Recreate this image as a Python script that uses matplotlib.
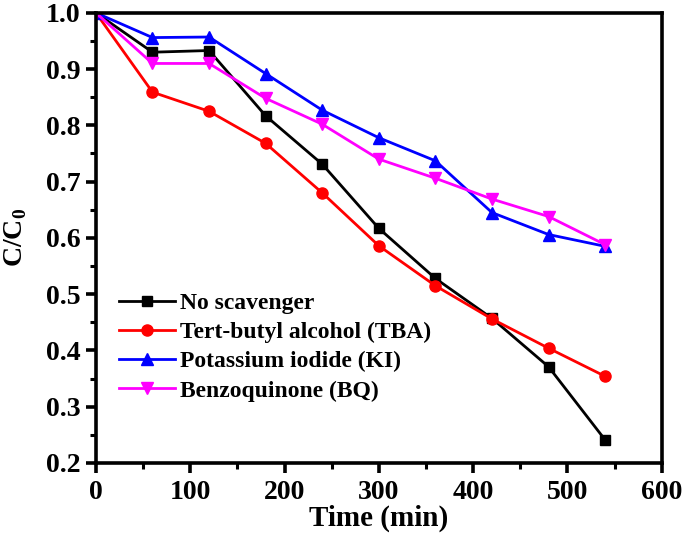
import numpy as np
import matplotlib.pyplot as plt
from matplotlib.ticker import MultipleLocator

# time points (min) and normalised concentration C/C0
time_min = [0, 60, 120, 180, 240, 300, 360, 420, 480, 540]
no_scavenger = [1.0, 0.930, 0.933, 0.817, 0.731, 0.617, 0.528, 0.457, 0.371, 0.241]
tba = [1.0, 0.859, 0.825, 0.768, 0.680, 0.586, 0.515, 0.456, 0.404, 0.354]
ki = [1.0, 0.956, 0.957, 0.892, 0.827, 0.778, 0.737, 0.645, 0.606, 0.585]
bq = [1.0, 0.910, 0.910, 0.848, 0.802, 0.740, 0.706, 0.669, 0.638, 0.588]

labels = ['No scavenger', 'Tert-butyl alcohol (TBA)', 'Potassium iodide (KI)', 'Benzoquinone (BQ)']

plt.rcParams['font.family'] = 'Liberation Serif'
plt.rcParams['font.weight'] = 'bold'
plt.rcParams['mathtext.fontset'] = 'custom'
plt.rcParams['mathtext.rm'] = 'Liberation Serif:bold'
plt.rcParams['mathtext.bf'] = 'Liberation Serif:bold'

fig = plt.figure(figsize=(6.85, 5.34), dpi=100)
ax = fig.add_axes([0.140, 0.133, 0.826, 0.843])

lw = 2.0
ax.plot(time_min, no_scavenger, color='black', marker='s', ms=7, lw=lw, label=labels[0])
ax.plot(time_min, tba, color='red', marker='o', ms=8, lw=lw, label=labels[1])
ax.plot(time_min, ki, color='blue', marker='^', ms=8.5, lw=lw, label=labels[2])
ax.plot(time_min, bq, color='magenta', marker='v', ms=8.5, lw=lw, label=labels[3])

ax.set_xlim(0, 600)
ax.set_ylim(0.2, 1.0)
ax.xaxis.set_major_locator(MultipleLocator(100))
ax.xaxis.set_minor_locator(MultipleLocator(50))
ax.yaxis.set_major_locator(MultipleLocator(0.1))
ax.yaxis.set_minor_locator(MultipleLocator(0.05))
ax.yaxis.set_major_formatter(plt.FormatStrFormatter('%.1f'))

for s in ax.spines.values():
    s.set_linewidth(2.6)
ax.tick_params(which='major', direction='out', length=7, width=2.6, labelsize=20, pad=4)
ax.tick_params(axis='x', which='major', pad=5)
ax.tick_params(which='minor', direction='out', length=4, width=2.2)
for t in ax.get_xticklabels() + ax.get_yticklabels():
    t.set_fontweight('bold')

ax.set_xlabel('Time (min)', fontsize=21, fontweight='bold', labelpad=0)
ax.set_ylabel('C/C$_0$', fontsize=20, fontweight='bold', labelpad=12)

leg = ax.legend(loc='upper left', bbox_to_anchor=(0.04, 0.378), frameon=False,
                borderpad=0, borderaxespad=0,
                fontsize=17, handlelength=2.4, handletextpad=0.2, labelspacing=0.32)
for t in leg.get_texts():
    t.set_fontweight('bold')

fig.savefig('out.png', dpi=100)
